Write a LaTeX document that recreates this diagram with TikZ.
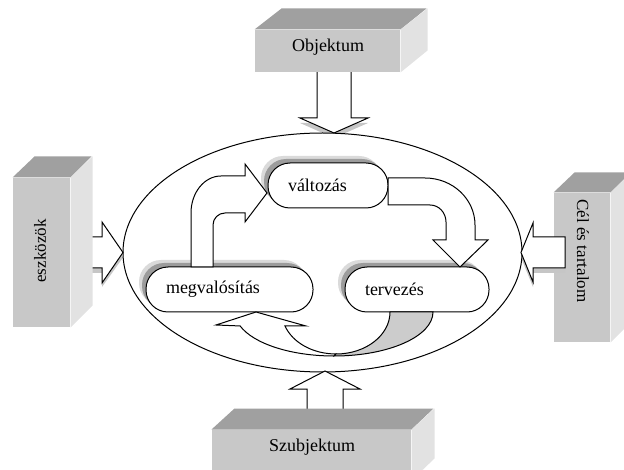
\documentclass[tikz,border=0pt]{standalone}
\usepackage{fontspec}
\setmainfont{Liberation Serif}
\usetikzlibrary{shadows,shapes.geometric}
\definecolor{boxfront}{HTML}{C8C8C8}
\definecolor{boxtop}{HTML}{A0A0A0}
\definecolor{boxside}{HTML}{E2E2E2}
\definecolor{curvegray}{HTML}{CCCCCC}
\definecolor{shadowdark}{HTML}{9C9C9C}
\definecolor{shadowlight}{HTML}{DADADA}
\begin{document}
\begin{tikzpicture}[x=1pt,y=-1pt,line width=1pt,line join=miter,
  every node/.style={font=\fontsize{18}{21}\selectfont},
  sidetext/.style={font=\fontsize{17}{20}\selectfont},
  frontface/.style={fill=boxfront,draw=none,inner sep=0pt},
  topface/.style={fill=boxtop,draw=none},
  sideface/.style={fill=boxside,draw=none},
  blockarrow/.style={draw=black,fill=white},
  arrowshadow/.style={fill=gray!45,draw=none},
  roundbox/.style={draw=black,fill=white,rounded corners=22pt,
    minimum height=45pt,inner xsep=20pt,inner ysep=0pt,align=left,
    general shadow={fill=shadowlight,shadow xshift=-7pt,shadow yshift=7pt},
    general shadow={fill=shadowdark,shadow xshift=-4pt,shadow yshift=4pt}}]
\useasboundingbox (0,0) rectangle (624,470);
\clip (0,0) rectangle (624,470);

% Cel es tartalom box (right)
\node[frontface,minimum width=56pt,minimum height=149pt] (celbox) at (582,267.5) {};
\fill[topface] (celbox.north west) -- ++(21,-20) -- ++(56,0) -- (celbox.north east) -- cycle;
\fill[sideface] (celbox.north east) -- ++(21,-20) -- ++(0,149) -- (celbox.south east) -- cycle;
\node[sidetext,rotate=-90] (celtext) at (583,251) {Cél és tartalom};

% shadows of the outer block arrows
\fill[arrowshadow] (317,75) -- (317,123) -- (300,123) -- (334,138) -- (368,123) -- (351,123) -- (351,75) -- cycle;
\fill[arrowshadow] (80,242) -- (102,242) -- (102,227) -- (123,257.5) -- (102,287) -- (102,273) -- (80,273) -- cycle;
\fill[arrowshadow] (565,242) -- (533,242) -- (533,228) -- (521,257.5) -- (533,287) -- (533,273) -- (565,273) -- cycle;

% central ellipse
\node[draw=black,fill=white,ellipse,minimum width=399pt,minimum height=239pt,inner sep=0pt] (cycle) at (322.5,252.5) {};

% outer block arrows
\draw[blockarrow] (317,70) -- (317,118) -- (300,118) -- (334,133) -- (368,118) -- (351,118) -- (351,70) -- cycle;
\draw[blockarrow] (80,237) -- (102,237) -- (102,222) -- (123,252.5) -- (102,283) -- (102,268) -- (80,268) -- cycle;
\draw[blockarrow] (307,420) -- (307,389) -- (290,389) -- (325,371) -- (360,389) -- (343,389) -- (343,420) -- cycle;
\draw[blockarrow] (565,237) -- (533,237) -- (533,223) -- (521,252.5) -- (533,282) -- (533,268) -- (565,268) -- cycle;

% Objektum box (top)
\node[frontface,minimum width=145pt,minimum height=42pt] (objbox) at (327.5,51) {};
\fill[topface] (objbox.north west) -- ++(27,-21) -- ++(145,0) -- (objbox.north east) -- cycle;
\fill[sideface] (objbox.north east) -- ++(27,-21) -- ++(0,42) -- (objbox.south east) -- cycle;
\node (objtext) at (328,47) {Objektum};

% eszkozok box (left)
\node[frontface,minimum width=57pt,minimum height=149pt] (eszkbox) at (41.5,252.5) {};
\fill[topface] (eszkbox.north west) -- ++(22,-21) -- ++(57,0) -- (eszkbox.north east) -- cycle;
\fill[sideface] (eszkbox.north east) -- ++(22,-21) -- ++(0,149) -- (eszkbox.south east) -- cycle;
\node[sidetext,rotate=90] (eszktext) at (40,251) {eszközök};

% Szubjektum box (bottom)
\node[frontface,minimum width=199pt,minimum height=50pt] (szubox) at (311.5,455) {};
\fill[topface] (szubox.north west) -- ++(23,-21) -- ++(199,0) -- (szubox.north east) -- cycle;
\fill[sideface] (szubox.north east) -- ++(23,-21) -- ++(0,50) -- (szubox.south east) -- cycle;
\node (szutext) at (312,447) {Szubjektum};

% inner rounded boxes
\node[roundbox,text width=80pt] (valt) at (328,185.5) {változás};
\node[roundbox,text width=127pt] (megv) at (229.5,289.5) {megvalósítás};
\node[roundbox,text width=104pt] (terv) at (417,289.5) {tervezés};

% megvalositas -> valtozas
\draw[blockarrow] (191,267) -- (191,213) arc[start angle=180,end angle=270,x radius=30,y radius=37]
  -- (245,176) -- (245,164) -- (267,193) -- (245,222) -- (245,213) -- (225,213)
  arc[start angle=270,end angle=180,radius=12] -- (213,267) -- cycle;
% valtozas -> tervezes
\draw[blockarrow] (388,178) -- (425,178) arc[start angle=270,end angle=360,x radius=50,y radius=47]
  -- (475,240) -- (488,240) -- (460,267) -- (433,240) -- (446,240) -- (446,222)
  arc[start angle=0,end angle=-90,x radius=16,y radius=17] -- (388,205) -- cycle;
% tervezes -> megvalositas (curved)
\draw[blockarrow] (216,325) -- (256,312) -- (306,326) -- (285,326)
  arc[start angle=160.5,end angle=90,x radius=54,y radius=42] -- (334,356)
  arc[start angle=90,end angle=161.5,x radius=99,y radius=44] -- cycle;
\draw[blockarrow,fill=curvegray] (336,354) arc[start angle=90,end angle=0,x radius=54,y radius=42]
  -- (433,312) arc[start angle=0,end angle=90,x radius=99,y radius=44] -- cycle;
\end{tikzpicture}
\end{document}
